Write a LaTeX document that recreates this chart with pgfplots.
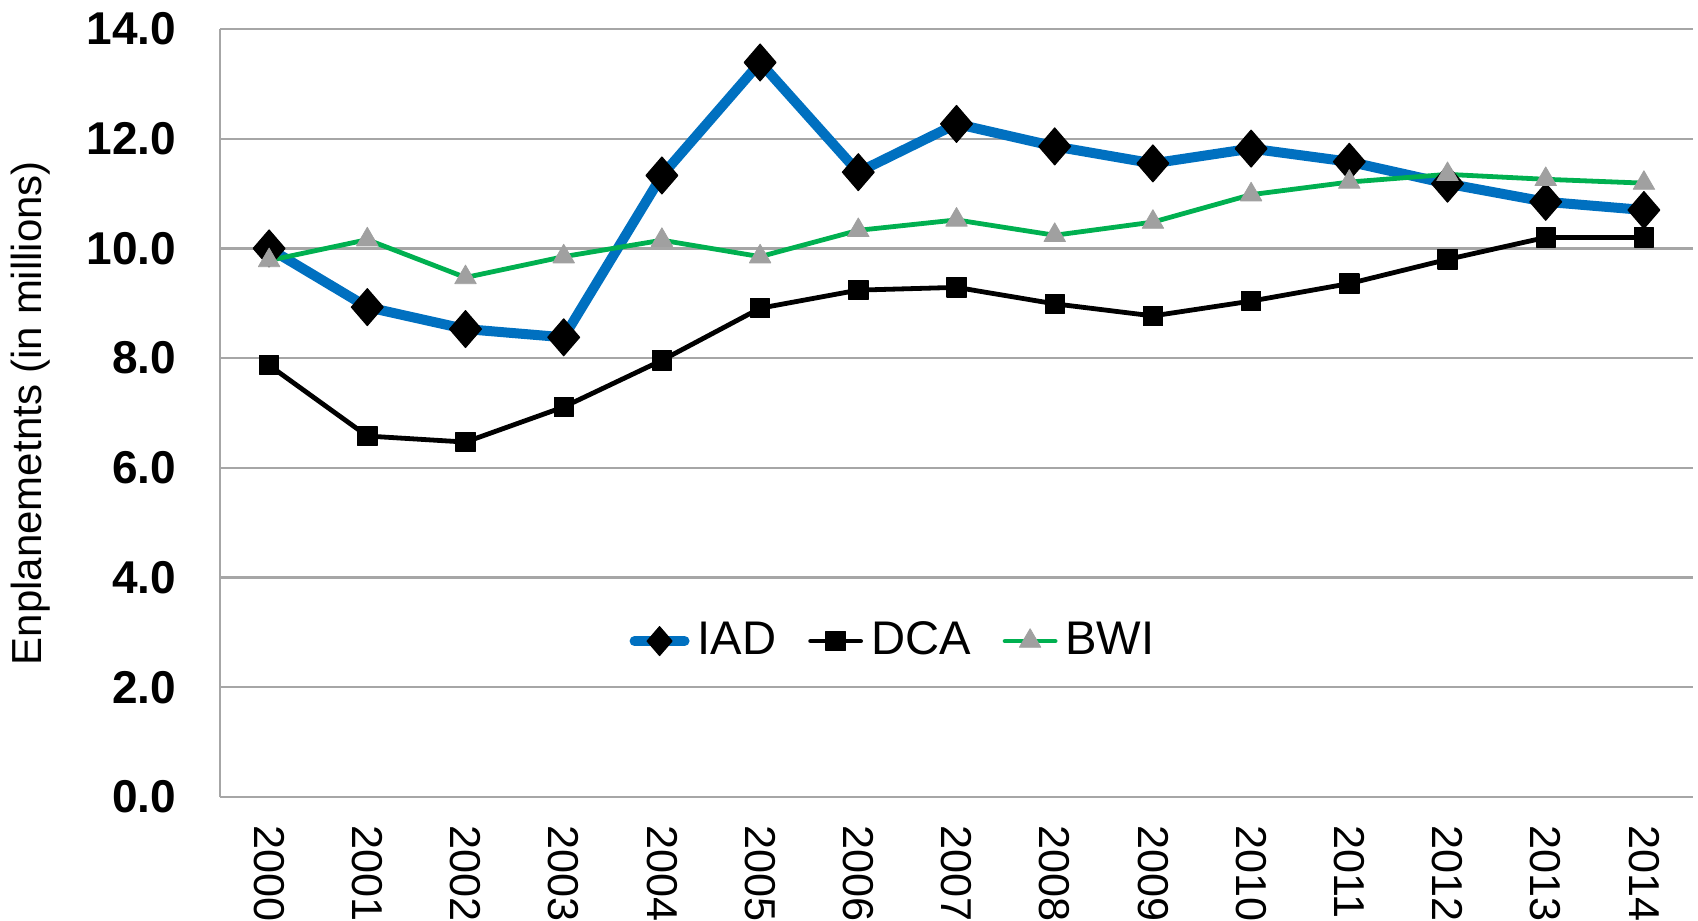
\documentclass[border=0pt]{standalone}
\usepackage{fontspec}
\setmainfont{Liberation Sans}
\usepackage{pgfplots}
\pgfplotsset{compat=1.18}
\definecolor{iadblue}{HTML}{0070C0}
\definecolor{bwigreen}{HTML}{00B050}
\definecolor{trigray}{HTML}{A0A0A0}
\definecolor{gridgray}{HTML}{A6A6A6}
\begin{document}
\begin{tikzpicture}
\path[use as bounding box] (0,0) rectangle (424.5pt,230pt);
\begin{axis}[
  at={(55pt,30.75pt)}, anchor=south west,
  scale only axis, width=368.25pt, height=192pt,
  xmin=-0.5, xmax=14.5, ymin=0, ymax=14,
  xtick={0,...,14},
  xticklabels={2000,2001,2002,2003,2004,2005,2006,2007,2008,2009,2010,2011,2012,2013,2014},
  ytick={0,2,...,14},
  ymajorgrids, grid style={gridgray, line width=0.6pt},
  axis x line*=bottom, axis y line*=left,
  axis line style={gridgray, line width=0.6pt},
  major tick length=0pt,
  clip=false,
  y tick label style={/pgf/number format/fixed, /pgf/number format/fixed zerofill,
    /pgf/number format/precision=1, /pgf/number format/assume math mode=true,
    font=\fontsize{11.5}{13}\selectfont\bfseries, anchor=east, inner sep=0pt, xshift=-10.75pt},
  x tick label style={font=\fontsize{10.8}{12}\selectfont, rotate=-90, anchor=west, inner xsep=7pt, inner ysep=0pt},
  ylabel={Enplanemetnts (in millions)},
  ylabel style={at={(axis description cs:-0.1283,0.5)}, anchor=center, font=\fontsize{10.5}{12}\selectfont},
  legend style={draw=none, fill=none, at={(axis description cs:0.459,0.203)}, anchor=center,
    font=\fontsize{11.8}{13}\selectfont, /tikz/every even column/.append style={column sep=6pt},
    inner sep=0pt},
  legend columns=3,
  legend image code/.code={\draw[mark repeat=2,mark phase=2,line cap=round,#1] plot coordinates {(0pt,0pt) (6.25pt,0pt) (12.5pt,0pt)};},
  line join=round,
]
\addplot[iadblue, line width=2.5pt, mark=diamond*, mark size=4.6pt, forget plot,
  mark options={solid, fill=black, draw=black, line width=0.3pt, xscale=1.15}]
  coordinates {(0,10.0) (1,8.93) (2,8.53) (3,8.38) (4,11.33) (5,13.39) (6,11.39) (7,12.27)
  (8,11.86) (9,11.55) (10,11.82) (11,11.58) (12,11.18) (13,10.85) (14,10.70)};
\addlegendimage{iadblue, line width=2.5pt, mark=diamond*, mark size=3.6pt,
  mark options={solid, fill=black, draw=black, line width=0.3pt, xscale=1.15}}
\addlegendentry{IAD}
\addplot[black, line width=1.2pt, mark=square*, mark size=2.4pt,
  mark options={solid, fill=black, draw=black, line width=0.3pt}]
  coordinates {(0,7.87) (1,6.58) (2,6.47) (3,7.11) (4,7.96) (5,8.91) (6,9.24) (7,9.29)
  (8,8.99) (9,8.77) (10,9.04) (11,9.36) (12,9.80) (13,10.20) (14,10.20)};
\addlegendentry{DCA}
\addplot[bwigreen, line width=1.2pt, mark=triangle*, mark size=3.1pt,
  mark options={solid, fill=trigray, draw=trigray, line width=0.2pt}]
  coordinates {(0,9.78) (1,10.16) (2,9.47) (3,9.85) (4,10.15) (5,9.85) (6,10.33) (7,10.52)
  (8,10.24) (9,10.48) (10,10.98) (11,11.21) (12,11.35) (13,11.26) (14,11.19)};
\addlegendentry{BWI}
\end{axis}
\end{tikzpicture}
\end{document}
